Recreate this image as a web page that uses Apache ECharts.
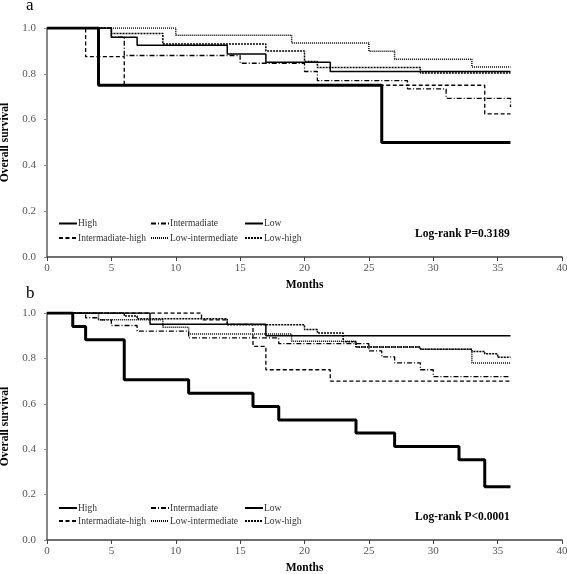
<!DOCTYPE html>
<html><head><meta charset="utf-8">
<script src="https://cdn.jsdelivr.net/npm/echarts@6/dist/echarts.min.js"></script>
<style>html,body{margin:0;padding:0;background:#fff}#c{width:567px;height:574px}</style>
</head><body><div id="c"></div>
<script>
// ---- tick labels ----
const xTicks = [0, 5, 10, 15, 20, 25, 30, 35, 40];
const yTicks = [0.0, 0.2, 0.4, 0.6, 0.8, 1.0];
const names = ['High', 'Intermadiate', 'Low', 'Intermadiate-high', 'Low-intermediate', 'Low-high'];

// ---- panel a (times in months, survival) ----
const aHighT = [0, 4, 26, 36];
const aHighS = [1, 0.75, 0.5, 0.5];
const aIntT  = [0, 5, 6, 15, 20, 21, 28, 31, 36];
const aIntS  = [1, 0.96, 0.88, 0.846, 0.81, 0.77, 0.734, 0.693, 0.655];
const aLowT  = [0, 5, 7, 14, 17, 22, 36];
const aLowS  = [1, 0.96, 0.925, 0.886, 0.85, 0.81, 0.81];
const aIHT   = [0, 3, 6, 34, 36];
const aIHS   = [1, 0.875, 0.75, 0.625, 0.625];
const aLIT   = [0, 10, 19, 25, 27, 33, 36];
const aLIS   = [1, 0.968, 0.934, 0.898, 0.864, 0.83, 0.83];
const aLHT   = [0, 5, 9, 17, 20, 21, 29, 36];
const aLHS   = [1, 0.976, 0.93, 0.90, 0.854, 0.828, 0.803, 0.803];

// ---- panel b ----
const bHighT = [0, 2, 3, 6, 11, 16, 18, 24, 27, 32, 34, 36];
const bHighS = [1, 0.941, 0.882, 0.706, 0.647, 0.588, 0.529, 0.471, 0.412, 0.353, 0.235, 0.235];
const bIntT  = [0, 3, 4, 5, 7, 11, 18, 25, 26, 27, 29, 30, 36];
const bIntS  = [1, 0.979, 0.97, 0.945, 0.92, 0.89, 0.865, 0.833, 0.807, 0.78, 0.75, 0.72, 0.72];
const bLowT  = [0, 8, 17, 36];
const bLowS  = [1, 0.95, 0.90, 0.90];
const bIHT   = [0, 12, 14, 16, 17, 22, 36];
const bIHS   = [1, 0.97, 0.95, 0.853, 0.75, 0.70, 0.70];
const bLIT   = [0, 4, 9, 11, 19, 24, 29, 33, 36];
const bLIS   = [1, 0.97, 0.937, 0.908, 0.876, 0.85, 0.84, 0.78, 0.78];
const bLHT   = [0, 6, 7, 14, 20, 21, 23, 24, 29, 33, 34, 35, 36];
const bLHS   = [1, 0.987, 0.975, 0.948, 0.927, 0.912, 0.873, 0.85, 0.84, 0.83, 0.82, 0.805, 0.805];

const pA = 'Log-rank P=0.3189';
const pB = 'Log-rank P<0.0001';

// ---- styling ----
const FONT = 'Liberation Serif, Times New Roman, serif';
const styles = {
  'High':              { type: 'solid', width: 3, z: 10 },
  'Intermadiate':      { type: [5, 2, 1, 2], width: 1.3, z: 5 },
  'Low':               { type: 'solid', width: 1.5, z: 6 },
  'Intermadiate-high': { type: [4, 2.5], width: 1.3, z: 4 },
  'Low-intermediate':  { type: [1, 1], width: 1.5, z: 3 },
  'Low-high':          { type: [2, 1], width: 1.5, z: 7 }
};
function pts(T, S) { return T.map((t, i) => [t, S[i]]); }
const panelData = [
  [pts(aHighT, aHighS), pts(aIntT, aIntS), pts(aLowT, aLowS), pts(aIHT, aIHS), pts(aLIT, aLIS), pts(aLHT, aLHS)],
  [pts(bHighT, bHighS), pts(bIntT, bIntS), pts(bLowT, bLowS), pts(bIHT, bIHS), pts(bLIT, bLIS), pts(bLHT, bLHS)]
];

const grids = [
  { left: 47, right: 5, top: 28, height: 229, outerBoundsMode: 'none', containLabel: false },
  { left: 47, right: 5, top: 313, height: 227, outerBoundsMode: 'none', containLabel: false }
];

const xAxes = grids.map((g, i) => ({
  type: 'value', gridIndex: i, min: xTicks[0], max: xTicks[xTicks.length - 1], interval: 5,
  name: 'Months', nameLocation: 'middle', nameGap: 22,
  nameTextStyle: { fontFamily: FONT, fontSize: 11.5, fontWeight: 'bold', color: '#000' },
  axisLine: { show: true, lineStyle: { color: '#404040', width: 1.5 } },
  axisTick: { show: true, length: 4, lineStyle: { color: '#404040' } },
  axisLabel: { fontFamily: FONT, fontSize: 11, color: '#555', margin: 6 },
  splitLine: { show: false }
}));
const yAxes = grids.map((g, i) => ({
  type: 'value', gridIndex: i, min: yTicks[0], max: yTicks[yTicks.length - 1], interval: 0.2,
  name: 'Overall survival', nameLocation: 'middle', nameGap: 36, nameRotate: 90,
  nameTextStyle: { fontFamily: FONT, fontSize: 11.5, fontWeight: 'bold', color: '#000' },
  axisLine: { show: true, lineStyle: { color: '#888', width: 2 } },
  axisTick: { show: true, length: 3, lineStyle: { color: '#888' } },
  axisLabel: { fontFamily: FONT, fontSize: 11, color: '#555', margin: 11, formatter: v => v.toFixed(1) },
  splitLine: { show: false }
}));

const series = [];
panelData.forEach((arr, p) => {
  arr.forEach((d, k) => {
    const st = styles[names[k]];
    series.push({
      name: names[k], type: 'line', step: 'end', xAxisIndex: p, yAxisIndex: p,
      data: d, symbol: 'none', showSymbol: false, z: st.z, silent: true, animation: false,
      itemStyle: { color: '#000' },
      lineStyle: { color: '#000', width: st.width, type: st.type }
    });
  });
});

// legends: 3 columns x 2 rows per panel
const colX = [58, 150, 244];
const rowTop = [[218.5, 233], [503, 516]];
const legends = [];
rowTop.forEach((rows, p) => {
  names.forEach((n, k) => {
    legends.push({
      data: [n], left: colX[k % 3], top: rows[Math.floor(k / 3)],
      itemWidth: 18, itemHeight: 10, itemGap: 0, selectedMode: false,
      itemStyle: { opacity: 0, borderWidth: 0 },
      textStyle: { fontFamily: FONT, fontSize: 9.5, color: '#333', padding: [0, 0, 0, -4] },
      padding: 0
    });
  });
});

const chart = echarts.init(document.getElementById('c'), null, { renderer: 'canvas' });
chart.setOption({
  animation: false,
  backgroundColor: '#fff',
  color: ['#000'],
  grid: grids,
  xAxis: xAxes,
  yAxis: yAxes,
  legend: legends,
  series: series,
  graphic: [
    { type: 'text', left: 26, top: -3, style: { text: 'a', font: '17px ' + FONT, fill: '#000' } },
    { type: 'text', left: 26, top: 285, style: { text: 'b', font: '17px ' + FONT, fill: '#000' } },
    { type: 'text', left: 415, top: 228, style: { text: pA, font: 'bold 11.5px ' + FONT, fill: '#000' } },
    { type: 'text', left: 415, top: 511, style: { text: pB, font: 'bold 11.5px ' + FONT, fill: '#000' } }
  ]
});
</script>
</body></html>
